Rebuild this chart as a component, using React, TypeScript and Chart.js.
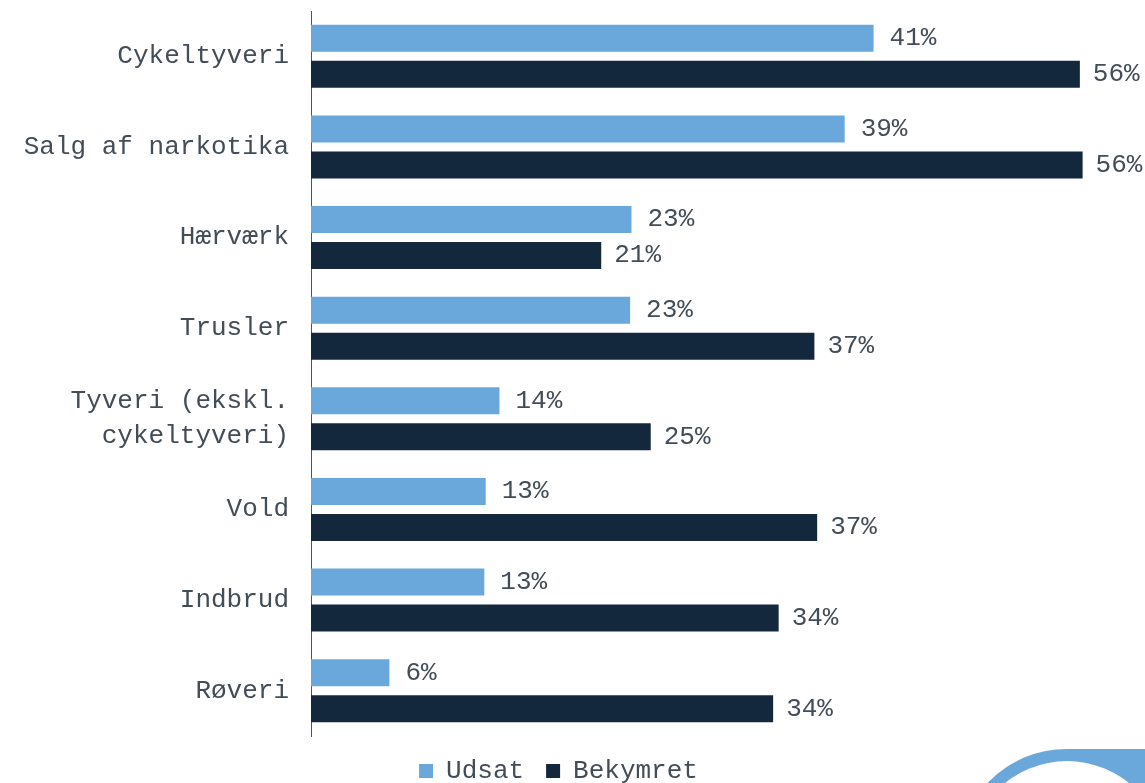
import React, { useEffect, useRef } from "react";
import { Chart, registerables } from "chart.js";

Chart.register(...registerables);

const categories: (string | string[])[] = [
  "Cykeltyveri",
  "Salg af narkotika",
  "Hærværk",
  "Trusler",
  ["Tyveri (ekskl.", "cykeltyveri)"],
  "Vold",
  "Indbrud",
  "Røveri",
];
const udsat = [40.9, 38.8, 23.3, 23.2, 13.7, 12.7, 12.6, 5.7];
const bekymret = [55.9, 56.1, 21.1, 36.6, 24.7, 36.8, 34.0, 33.6];
const seriesNames = ["Udsat", "Bekymret"];

const LIGHT = "#6aa7da";
const DARK = "#13283d";
const TEXT = "#434d57";
const FONT = "'Liberation Mono', 'Courier New', monospace";

const valueLabels = {
  id: "valueLabels",
  afterDatasetsDraw(chart: any) {
    const ctx = chart.ctx;
    ctx.save();
    ctx.font = `26px ${FONT}`;
    ctx.fillStyle = TEXT;
    ctx.textBaseline = "middle";
    ctx.textAlign = "left";
    chart.data.datasets.forEach((ds: any, di: number) => {
      const meta = chart.getDatasetMeta(di);
      const off = di === 0 ? 16 : 13;
      meta.data.forEach((el: any, i: number) => {
        ctx.fillText(Math.round(ds.data[i]) + "%", el.x + off, el.y);
      });
    });
    ctx.restore();
  },
};

export default function App() {
  const ref = useRef<HTMLCanvasElement>(null);
  useEffect(() => {
    if (!ref.current) return;
    const chart = new Chart(ref.current, {
      type: "bar",
      data: {
        labels: categories,
        datasets: [
          {
            label: seriesNames[0],
            data: udsat,
            backgroundColor: LIGHT,
            barPercentage: 0.75,
            categoryPercentage: 0.795,
          },
          {
            label: seriesNames[1],
            data: bekymret,
            backgroundColor: DARK,
            barPercentage: 0.75,
            categoryPercentage: 0.795,
          },
        ],
      },
      options: {
        indexAxis: "y",
        animation: false,
        responsive: true,
        maintainAspectRatio: false,
        layout: { padding: { top: 11, right: 28, left: 0, bottom: -11 } },
        scales: {
          x: { display: false, min: 0, max: 58.6 },
          y: {
            afterFit: (s: any) => {
              s.width = 311;
              s.paddingTop = 0;
              s.paddingBottom = 0;
            },
            grid: { display: false, drawTicks: false },
            border: { display: true, color: "#4a5560", width: 1 },
            ticks: {
              autoSkip: false,
              padding: 22,
              color: TEXT,
              font: { family: FONT, size: 26, lineHeight: 1.35 },
            },
          },
        },
        plugins: {
          legend: {
            position: "bottom",
            labels: {
              boxWidth: 14,
              boxHeight: 14,
              padding: 22,
              color: TEXT,
              font: { family: FONT, size: 26 },
            },
          },
          tooltip: { enabled: false },
        },
      },
      plugins: [valueLabels],
    });
    return () => chart.destroy();
  }, []);

  return (
    <div
      style={{
        position: "absolute",
        left: 0,
        top: 0,
        width: 1145,
        height: 783,
        overflow: "hidden",
        background: "#fff",
      }}
    >
      <div
        style={{
          position: "absolute",
          left: 1067 - 110,
          top: 859 - 110,
          width: 220,
          height: 220,
          borderRadius: "50%",
          background: LIGHT,
        }}
      />
      <div
        style={{
          position: "absolute",
          left: 1067,
          top: 749,
          width: 100,
          height: 60,
          background: LIGHT,
        }}
      />
      <div
        style={{
          position: "absolute",
          left: 1067 - 98,
          top: 859 - 98,
          width: 196,
          height: 196,
          borderRadius: "50%",
          background: "#fff",
        }}
      />
      <canvas ref={ref} style={{ position: "absolute", left: 0, top: 0 }} />
    </div>
  );
}
